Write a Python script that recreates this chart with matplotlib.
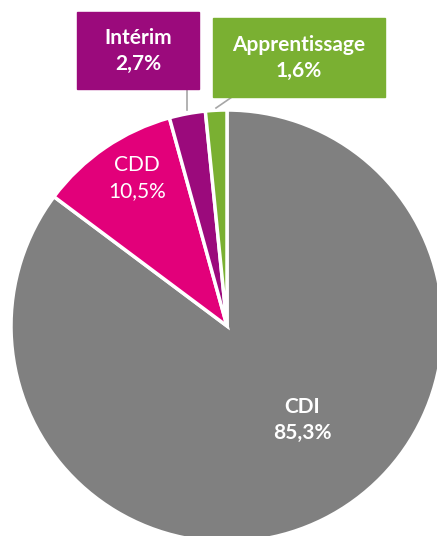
import matplotlib.pyplot as plt

labels = ["CDI", "CDD", "Intérim", "Apprentissage"]
values = [85.3, 10.5, 2.7, 1.6]
colors = ["#808080", "#E2007A", "#9B0A7C", "#7AB032"]
pct_text = ["85,3%", "10,5%", "2,7%", "1,6%"]

W, H = 437, 536
fig = plt.figure(figsize=(W / 100, H / 100), dpi=100)
ax = fig.add_axes([0, 0, 1, 1])

cx, cy, r = 227, H - 326, 216
ax.pie(values, colors=colors, startangle=90, counterclock=False,
       center=(cx, cy), radius=r, explode=[3 / r, 0, 0, 0], frame=True,
       wedgeprops=dict(edgecolor="white", linewidth=2.5))
ax.set_xlim(0, W)
ax.set_ylim(0, H)
ax.axis("off")

font = ["Lato", "DejaVu Sans"]
fs = 15
# labels inside slices
ax.text(302, H - 420, labels[0] + "\n" + pct_text[0], ha="center", va="center",
        color="white", fontsize=fs, fontweight="bold", family=font, linespacing=1.4)
ax.text(137, H - 178, labels[1] + "\n" + pct_text[1], ha="center", va="center",
        color="white", fontsize=fs, family=font, linespacing=1.4)

# callout boxes
ax.plot([187, 187], [H - 89, H - 110], color="#A6A6A6", lw=1.2)
ax.plot([232, 216], [H - 97, H - 108], color="#A6A6A6", lw=1.2)
ax.add_patch(plt.Rectangle((77, H - 89), 122, 77, color=colors[2], zorder=3))
ax.add_patch(plt.Rectangle((213, H - 97), 172, 79, color=colors[3], zorder=3))
ax.text(138, H - 51, labels[2] + "\n" + pct_text[2], ha="center", va="center",
        color="white", fontsize=fs, fontweight="bold", family=font, linespacing=1.4, zorder=4)
ax.text(299, H - 58, labels[3] + "\n" + pct_text[3], ha="center", va="center",
        color="white", fontsize=fs, fontweight="bold", family=font, linespacing=1.4, zorder=4)

fig.savefig("out.png", dpi=100)
